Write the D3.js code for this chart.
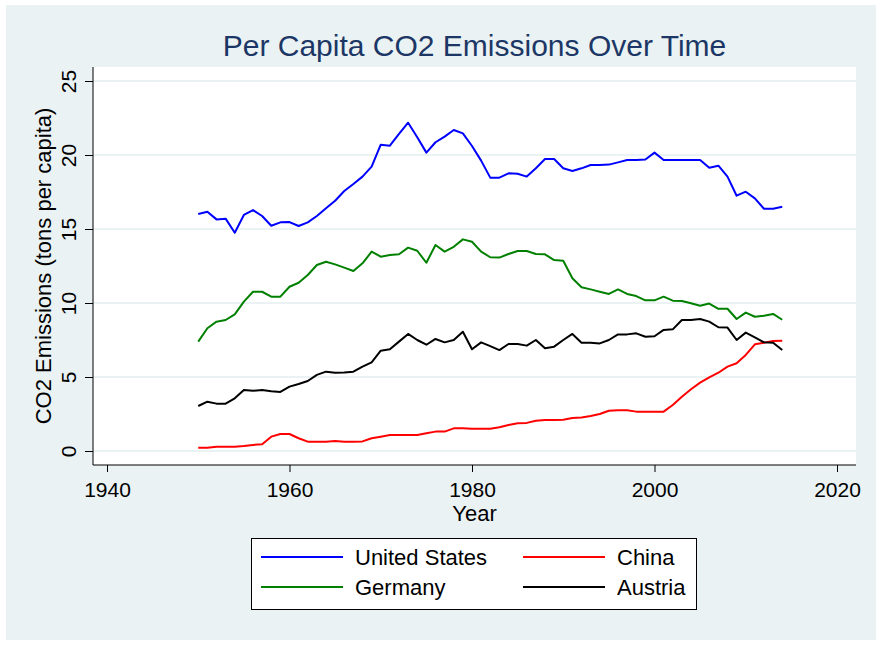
<!DOCTYPE html>
<html>
<head>
<meta charset="utf-8">
<script src="https://cdn.jsdelivr.net/npm/d3@7"></script>
<style>
  body { margin: 0; background: #ffffff; }
  svg { display: block; font-family: "Liberation Sans", Arial, sans-serif; }
</style>
</head>
<body>
<svg id="chart" width="882" height="645"></svg>
<script>
const years = d3.range(1950, 2015);
const xTicks = [1940, 1960, 1980, 2000, 2020];
const yTicks = [0, 5, 10, 15, 20, 25];
const seriesNames = ["United States", "China", "Germany", "Austria"];
const seriesColors = ["#0000ff", "#ff0000", "#008000", "#000000"];

const usValues = [16.01, 16.17, 15.65, 15.7, 14.75, 15.95, 16.28, 15.88, 15.22, 15.45,
  15.47, 15.2, 15.45, 15.88, 16.4, 16.91, 17.57, 18.04, 18.54, 19.21,
  20.7, 20.63, 21.42, 22.18, 21.2, 20.16, 20.86, 21.24, 21.69, 21.46,
  20.61, 19.62, 18.47, 18.47, 18.76, 18.73, 18.54, 19.1, 19.73, 19.73,
  19.1, 18.92, 19.1, 19.32, 19.32, 19.35, 19.5, 19.66, 19.66, 19.7,
  20.16, 19.66, 19.66, 19.66, 19.66, 19.66, 19.14, 19.28, 18.54, 17.25,
  17.52, 17.07, 16.37, 16.37, 16.5];

const chinaValues = [0.22, 0.22, 0.29, 0.29, 0.29, 0.34, 0.41, 0.45, 0.97, 1.15,
  1.15, 0.86, 0.63, 0.63, 0.63, 0.68, 0.63, 0.63, 0.65, 0.86,
  0.97, 1.08, 1.08, 1.08, 1.08, 1.2, 1.31, 1.31, 1.53, 1.53,
  1.5, 1.5, 1.5, 1.6, 1.76, 1.87, 1.9, 2.05, 2.09, 2.1,
  2.11, 2.23, 2.27, 2.36, 2.5, 2.72, 2.75, 2.75, 2.66, 2.66,
  2.66, 2.66, 3.11, 3.67, 4.17, 4.62, 4.98, 5.29, 5.7, 5.93,
  6.49, 7.21, 7.32, 7.43, 7.45];

const germanyValues = [7.39, 8.29, 8.74, 8.85, 9.23, 10.09, 10.76, 10.76, 10.43, 10.43,
  11.1, 11.37, 11.89, 12.57, 12.79, 12.61, 12.39, 12.16, 12.68, 13.47,
  13.13, 13.24, 13.29, 13.74, 13.53, 12.72, 13.92, 13.47, 13.8, 14.3,
  14.14, 13.47, 13.09, 13.07, 13.31, 13.51, 13.51, 13.31, 13.29, 12.9,
  12.85, 11.67, 11.06, 10.92, 10.76, 10.61, 10.92, 10.61, 10.47, 10.18,
  10.18, 10.43, 10.16, 10.14, 9.98, 9.82, 9.96, 9.61, 9.61, 8.92,
  9.35, 9.07, 9.14, 9.26, 8.87];

const austriaValues = [3.04, 3.33, 3.2, 3.2, 3.56, 4.12, 4.07, 4.12, 4.03, 3.99,
  4.35, 4.53, 4.73, 5.14, 5.36, 5.29, 5.31, 5.36, 5.7, 5.99,
  6.78, 6.87, 7.39, 7.91, 7.5, 7.18, 7.57, 7.34, 7.5, 8.06,
  6.87, 7.34, 7.09, 6.82, 7.23, 7.23, 7.12, 7.5, 6.94, 7.05,
  7.5, 7.91, 7.32, 7.32, 7.27, 7.5, 7.88, 7.88, 7.95, 7.72,
  7.75, 8.18, 8.22, 8.85, 8.85, 8.92, 8.74, 8.36, 8.34, 7.5,
  8.0, 7.68, 7.34, 7.32, 6.82];

const seriesValues = [usValues, chinaValues, germanyValues, austriaValues];

const svg = d3.select("#chart");
const plot = { left: 93, right: 856, top: 67, bottom: 465 };

// backgrounds
svg.append("rect").attr("x", 0).attr("y", 0).attr("width", 882).attr("height", 645).attr("fill", "#ffffff");
svg.append("rect").attr("x", 6).attr("y", 5).attr("width", 870).attr("height", 635).attr("fill", "#eaf2f3");
svg.append("rect").attr("x", plot.left).attr("y", plot.top)
  .attr("width", plot.right - plot.left).attr("height", plot.bottom - plot.top).attr("fill", "#ffffff");

const x = d3.scaleLinear().domain([1940, 2020]).range([107, 837]);
const y = d3.scaleLinear().domain([0, 25]).range([451, 81]);

// grid
svg.append("g").selectAll("line").data(yTicks).join("line")
  .attr("x1", plot.left).attr("x2", plot.right)
  .attr("y1", d => y(d)).attr("y2", d => y(d))
  .attr("stroke", "#eaf2f3").attr("stroke-width", 2);

// lines
const line = d3.line().x((d, i) => x(years[i])).y(d => y(d));
seriesValues.forEach((vals, k) => {
  svg.append("path").datum(vals)
    .attr("d", line)
    .attr("fill", "none")
    .attr("stroke", seriesColors[k])
    .attr("stroke-width", 2)
    .attr("stroke-linejoin", "round");
});

// y axis
const yAxis = svg.append("g").attr("transform", `translate(${plot.left},0)`)
  .call(d3.axisLeft(y).tickValues(yTicks).tickSize(8).tickPadding(4).tickSizeOuter(0));
yAxis.select(".domain").remove();
yAxis.append("line").attr("x1", 0).attr("x2", 0).attr("y1", plot.top).attr("y2", plot.bottom)
  .attr("stroke", "#000").attr("stroke-width", 1);
yAxis.selectAll(".tick line").attr("stroke", "#000");
yAxis.selectAll(".tick text")
  .attr("x", null).attr("dy", null)
  .attr("transform", "translate(-17,0) rotate(-90)")
  .attr("text-anchor", "middle")
  .attr("font-size", 21)
  .attr("font-family", "Liberation Sans, Arial, sans-serif")
  .attr("fill", "#000");

// x axis
const xAxis = svg.append("g").attr("transform", `translate(0,${plot.bottom})`)
  .call(d3.axisBottom(x).tickValues(xTicks).tickFormat(d3.format("d")).tickSize(7).tickSizeOuter(0));
xAxis.select(".domain").remove();
xAxis.append("line").attr("x1", plot.left).attr("x2", plot.right).attr("y1", 0).attr("y2", 0)
  .attr("stroke", "#000").attr("stroke-width", 1);
xAxis.selectAll(".tick line").attr("stroke", "#000");
xAxis.selectAll(".tick text")
  .attr("y", 32).attr("dy", null)
  .attr("font-size", 21)
  .attr("font-family", "Liberation Sans, Arial, sans-serif")
  .attr("fill", "#000");

// axis titles
svg.append("text").attr("x", (plot.left + plot.right) / 2).attr("y", 521)
  .attr("text-anchor", "middle").attr("font-size", 22).attr("fill", "#000").text("Year");
svg.append("text")
  .attr("transform", `translate(51,${(plot.top + plot.bottom) / 2}) rotate(-90)`)
  .attr("text-anchor", "middle").attr("font-size", 22).attr("fill", "#000")
  .text("CO2 Emissions (tons per capita)");

// title
svg.append("text").attr("x", (plot.left + plot.right) / 2).attr("y", 56)
  .attr("text-anchor", "middle").attr("font-size", 30).attr("fill", "#1c3766")
  .text("Per Capita CO2 Emissions Over Time");

// legend
const legend = svg.append("g");
legend.append("rect").attr("x", 251.5).attr("y", 538.5).attr("width", 445).attr("height", 71)
  .attr("fill", "#ffffff").attr("stroke", "#000").attr("stroke-width", 1);
const legendPos = [
  { lx: 261, ty: 557 }, { lx: 523, ty: 557 },
  { lx: 261, ty: 587 }, { lx: 523, ty: 587 }
];
seriesNames.forEach((name, k) => {
  const p = legendPos[k];
  legend.append("line").attr("x1", p.lx).attr("x2", p.lx + 82).attr("y1", p.ty).attr("y2", p.ty)
    .attr("stroke", seriesColors[k]).attr("stroke-width", 2);
  legend.append("text").attr("x", p.lx + 94).attr("y", p.ty + 8)
    .attr("font-size", 22).attr("fill", "#000").text(name);
});
</script>
</body>
</html>
